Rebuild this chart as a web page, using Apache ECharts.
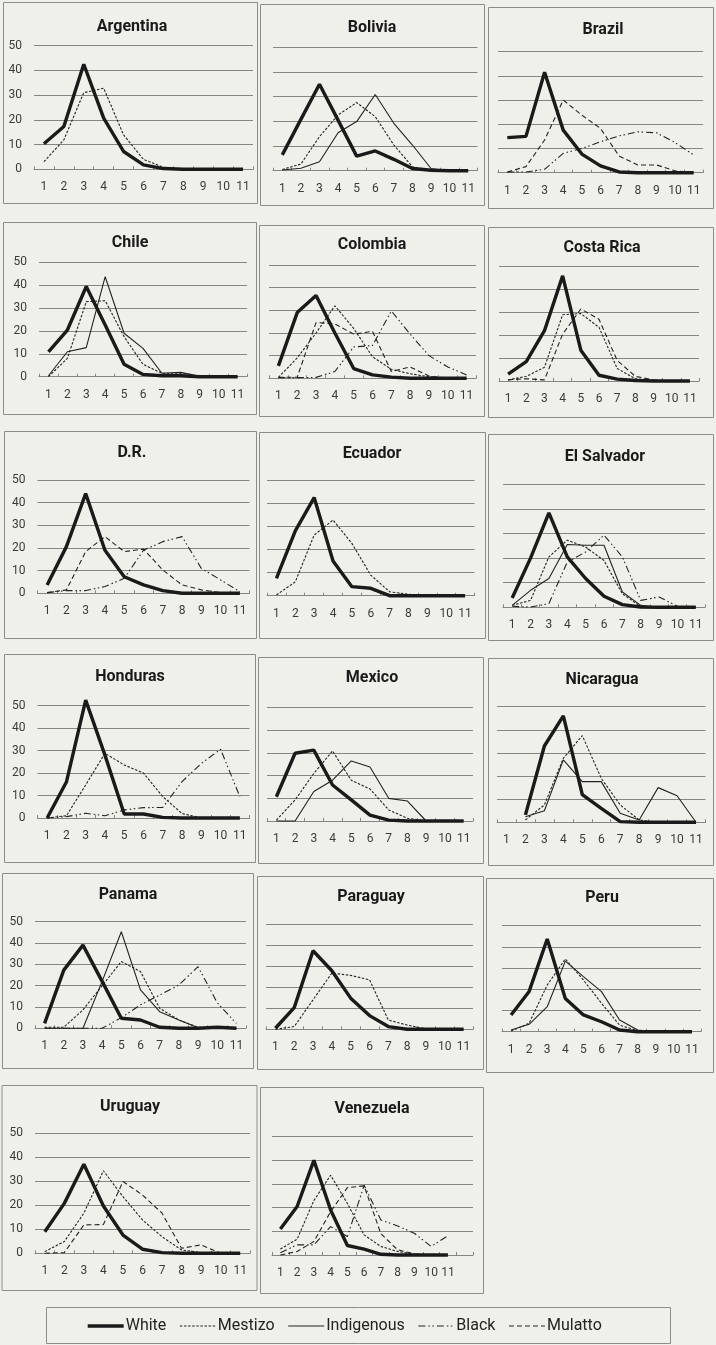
<!DOCTYPE html>
<html>
<head>
<meta charset="utf-8">
<script src="https://cdn.jsdelivr.net/npm/echarts@6/dist/echarts.min.js"></script>
<style>
html,body{margin:0;padding:0;background:#f0f0ea;}
#c{width:716px;height:1345px;}
</style>
</head>
<body>
<div id="c"></div>
<script>
// ---------- data ----------
const CATEGORIES = ['1','2','3','4','5','6','7','8','9','10','11'];
const Y_MIN = 0, Y_MAX = 50, Y_STEP = 10;
const GROUPS = ['White','Mestizo','Indigenous','Black','Mulatto'];

const argentina = {
  White:   [10.3, 17.3, 42.5, 20.7, 7.2, 1.8, 0.3, 0, 0, 0, 0],
  Mestizo: [3.1, 11.9, 31, 32.8, 13.9, 4, 0.8, 0, 0, 0, 0]
};
const bolivia = {
  White:      [6.4, 20.8, 35, 20.5, 5.9, 8, 4.6, 0.9, 0.2, 0, 0],
  Mestizo:    [0.5, 2.7, 13.8, 22.6, 27.6, 21.9, 10.4, 1.6, 0, 0, 0],
  Indigenous: [0.3, 1, 3.6, 15.4, 19.9, 30.9, 19.2, 10.4, 0.9, 0, 0]
};
const brazil = {
  White:   [14.5, 15, 41.5, 17.6, 7.7, 2.8, 0.3, 0, 0, 0, 0],
  Black:   [0.3, 0.3, 1.4, 8, 10, 12.8, 15.2, 16.9, 16.5, 12.5, 7.3],
  Mulatto: [0.3, 2.5, 13.5, 30, 23.8, 18.3, 6.9, 3.2, 3.2, 0.8, 0]
};
const chile = {
  White:      [10.9, 20.4, 39.4, 22.6, 5.4, 1, 0.4, 0.4, 0, 0, 0],
  Mestizo:    [0, 8, 32.8, 33.2, 17.5, 5.4, 1.5, 1.5, 0, 0, 0],
  Indigenous: [0.4, 10.9, 12.7, 43.7, 19, 12.4, 1.5, 1.9, 0.2, 0.4, 0]
};
const colombia = {
  White:   [5.5, 29, 36.5, 20, 4.3, 1.5, 0.5, 0, 0, 0, 0],
  Mestizo: [0.4, 9, 20, 32, 22, 9.5, 4, 2, 0.7, 0, 0],
  Black:   [0.3, 0.3, 0.4, 3, 13.8, 14.5, 29.7, 19.5, 10, 5, 1.5],
  Mulatto: [0.4, 0.5, 24.6, 24, 19.5, 20.7, 3, 5, 1, 0, 0]
};
const costaRica = {
  White:   [3, 8.5, 22, 46, 13.5, 2.5, 0.8, 0.2, 0, 0, 0],
  Mestizo: [0.5, 2, 6, 29, 29.5, 23.5, 5.5, 1, 0.3, 0, 0],
  Mulatto: [0.5, 1, 0.5, 20.5, 31.5, 27, 9, 2, 0.5, 0, 0]
};
const dominicanRep = {
  White:   [3.7, 20.6, 44, 19, 7.3, 3.7, 1.2, 0, 0, 0, 0],
  Black:   [0.3, 1.2, 1.2, 3, 6.6, 19, 22.8, 25, 11, 5.9, 0.7],
  Mulatto: [0.3, 1.5, 18.4, 25, 18.4, 19.5, 10.3, 3.7, 1.5, 0.3, 0]
};
const ecuador = {
  White:   [7.5, 28, 42.4, 15, 3.9, 3.2, 0, 0, 0, 0, 0],
  Mestizo: [0.3, 6, 26.2, 32.7, 22.6, 8.9, 1.7, 0.6, 0, 0, 0]
};
const elSalvador = {
  White:      [3.8, 20, 38.4, 20.5, 11.7, 4.5, 1.1, 0.1, 0, 0, 0],
  Mestizo:    [0.8, 2.8, 20.5, 27.3, 24.5, 19, 5.5, 0.3, 0, 0, 0],
  Indigenous: [0.8, 6.9, 11.7, 25.5, 25.2, 25.2, 6.2, 0.8, 0, 0, 0],
  Black:      [0.4, 0.1, 1.5, 18.4, 22.5, 29.3, 20.5, 2.8, 4.2, 0.4, 0]
};
const honduras = {
  White:   [0, 16, 52.5, 28, 1.8, 1.8, 0.3, 0, 0, 0, 0],
  Mestizo: [0, 1, 14.7, 28.8, 23.6, 20, 9.5, 2, 0, 0, 0],
  Black:   [0, 0.6, 2.1, 1, 3.6, 4.6, 4.7, 16.2, 24.3, 30.6, 9.5]
};
const mexico = {
  White:      [10.7, 29.9, 31.3, 15.9, 9.3, 2.6, 0.4, 0, 0, 0, 0],
  Mestizo:    [0.4, 9.3, 21, 30.9, 18, 14.1, 4.9, 1.2, 0, 0, 0],
  Indigenous: [0, 0, 13, 18, 26.5, 23.8, 10, 8.8, 0, 0, 0]
};
const nicaragua = {
  White:      [null, 3.2, 33, 46, 12, 6, 0.3, 0, 0, 0, 0],
  Mestizo:    [null, 1, 7.5, 27.7, 37.5, 19, 7.5, 1, 0, 0, 0],
  Indigenous: [null, 2.4, 5, 27, 17.6, 17.6, 3.9, 1, 15, 11.5, 0]
};
const panama = {
  White:      [2.3, 27.3, 39, 22, 4.7, 3.9, 0.5, 0, 0, 0.5, 0],
  Mestizo:    [0.5, 0.5, 8.6, 20, 31.3, 26.6, 9.4, 3.9, 0.5, 0, 0],
  Indigenous: [0, 0, 0, 22, 45.3, 18, 7.8, 3.9, 0.3, 0, 0],
  Black:      [0, 0, 0, 0, 5, 11, 15.6, 20.3, 28.9, 12, 2.3]
};
const paraguay = {
  White:   [0.5, 10.3, 37.3, 27.8, 14.8, 6.5, 1.3, 0, 0, 0, 0],
  Mestizo: [0, 1.3, 14, 26.7, 25.6, 23.5, 4.4, 2, 0.2, 0, 0]
};
const peru = {
  White:      [7.9, 19, 43.7, 15.7, 7.9, 4.7, 0.8, 0, 0, 0, 0],
  Mestizo:    [0.3, 4, 22, 34.3, 24.4, 13.4, 3.1, 0.5, 0, 0, 0],
  Indigenous: [0.8, 3.5, 11.8, 33.3, 26, 18.9, 5.5, 0.8, 0, 0, 0]
};
const uruguay = {
  White:   [9, 20.8, 37.1, 19.7, 7.6, 1.7, 0.3, 0, 0, 0, 0],
  Mestizo: [0.7, 4.9, 16.7, 34.4, 23.6, 13.9, 6.9, 1.4, 0.3, 0, 0],
  Mulatto: [0, 0.3, 11.8, 12, 29.9, 24.3, 16.7, 2.1, 3.5, 0, 0]
};
const venezuela = {
  White:   [11, 20.5, 40, 19, 4, 2.5, 0.3, 0, 0, 0, 0],
  Mestizo: [2.5, 6.7, 23, 33.7, 21.8, 8.5, 3.6, 1.5, 0.3, 0, 0],
  Black:   [1, 4.3, 4.3, 12, 7.8, 29.5, 14.8, 12.3, 9.2, 3.6, 8.1],
  Mulatto: [0, 1.5, 5.7, 18.3, 28.5, 29.2, 9, 2.2, 0.5, 0, 0]
};

// ---------- layout (pixels) ----------
// name, data, plot [left,right,y50,y0], frame [x,y,w,h], title [cx,cy], showYLabels, extraCats
const PANELS = [
  ['Argentina',  argentina,   [34,253,45.7,169.3],   [3,2,254,201],     [132,27], true, 0],
  ['Bolivia',    bolivia,     [273,477.5,47.3,170.7],[260,4,224,201],   [372,28], false,0],
  ['Brazil',     brazil,      [498,703,51.7,172.7],  [488,7,225,201],   [603,30], false,0],
  ['Chile',      chile,       [39,247,262.3,376.7],  [3,222,253,192],   [130,243],true, 0],
  ['Colombia',   colombia,    [269,476,265,378.3],   [259,225,225,191], [372,245],false,0],
  ['Costa Rica', costaRica,   [499,699,266.7,381],   [488,227,225,190], [602,248],false,0],
  ['D.R.',       dominicanRep,[37.5,249.5,480,593.3],[4,431,252,207],   [132,453],true, 0],
  ['Ecuador',    ecuador,     [267,474.5,480,595.7], [259,432,226,206], [372,454],false,0],
  ['El Salvador',elSalvador,  [503,705,484.3,607.3], [488,434,225,206], [605,457],false,0],
  ['Honduras',   honduras,    [37.5,249.5,705.7,818],[4,654,251,208],   [130,677],true, 0],
  ['Mexico',     mexico,      [267,473,707.7,821],   [258,657,225,206], [372,678],false,0],
  ['Nicaragua',  nicaragua,   [497,705.5,706.7,822.3],[488,658,225,207],[602,680],false,0],
  ['Panama',     panama,      [35,246,921.7,1028.3], [2,873,251,195],   [128,895],true, 0],
  ['Paraguay',   paraguay,    [266,473,924,1029.3],  [257,876,226,193], [371,897],false,0],
  ['Peru',       peru,        [502,701,925.7,1031.7],[486,878,227,194], [602,898],false,0],
  ['Uruguay',    uruguay,     [35,250,1133.3,1253.3],[1.5,1085,255,205],[130,1107],true,0],
  ['Venezuela',  venezuela,   [272,473,1136.7,1255], [260,1087,223,206],[372,1109],false,1]
];

const FONT = "'Liberation Sans Narrow','Roboto','Noto Sans',sans-serif";
const INK = '#222';
const STYLES = {
  White:      {color: '#1a1a1a', width: 3.4, type: 'solid', z: 5},
  Mestizo:    {color: INK, width: 1.1, type: [2.5, 1.6], z: 3},
  Indigenous: {color: INK, width: 1.1, type: 'solid', z: 4},
  Black:      {color: INK, width: 1.1, type: [7, 3, 1.5, 2.5, 1.5, 3], z: 2},
  Mulatto:    {color: INK, width: 1.1, type: [5, 3], z: 2}
};

const grids = [], xAxes = [], yAxes = [], series = [], titles = [], graphics = [];

PANELS.forEach((p, i) => {
  const [name, data, plot, frame, tpos, showY, extra] = p;
  const cats = CATEGORIES.concat(Array(extra).fill(''));
  grids.push({left: plot[0], top: plot[2], width: plot[1] - plot[0], height: plot[3] - plot[2], containLabel: false});
  xAxes.push({
    gridIndex: i, type: 'category', data: cats, boundaryGap: true,
    axisLine: {show: true, lineStyle: {color: '#858585', width: 1}},
    axisTick: {show: true, inside: true, length: 3, lineStyle: {color: '#858585'}},
    axisLabel: {interval: 0, fontSize: 12, color: '#3a3a3a', margin: 12, fontFamily: FONT},
    splitLine: {show: false}
  });
  yAxes.push({
    gridIndex: i, type: 'value', min: Y_MIN, max: Y_MAX, interval: Y_STEP,
    axisLine: {show: false}, axisTick: {show: false},
    axisLabel: {show: showY, fontSize: 12, color: '#3a3a3a', margin: 12, fontFamily: FONT},
    splitLine: {show: true, lineStyle: {color: '#858585', width: 1}}
  });
  GROUPS.forEach(g => {
    if (!data[g]) return;
    const s = STYLES[g];
    series.push({
      name: g, type: 'line', xAxisIndex: i, yAxisIndex: i, data: data[g],
      symbol: 'none', clip: false, z: s.z, animation: false,
      lineStyle: {color: s.color, width: s.width, type: s.type},
      itemStyle: {color: s.color}
    });
  });
  titles.push({
    text: name, left: tpos[0], top: tpos[1] - 9, textAlign: 'center', padding: 0,
    textStyle: {fontSize: 16, fontWeight: 'bold', color: '#1a1a1a', fontFamily: FONT, lineHeight: 18}
  });
  graphics.push({
    type: 'rect', silent: true, z: 0,
    shape: {x: frame[0] + 0.5, y: frame[1] + 0.5, width: frame[2], height: frame[3]},
    style: {fill: 'none', stroke: '#8c8c8c', lineWidth: 1}
  });
});

graphics.push({
  type: 'rect', silent: true, z: 0,
  shape: {x: 46.5, y: 1307.5, width: 624, height: 36},
  style: {fill: 'none', stroke: '#8c8c8c', lineWidth: 1}
});

const chart = echarts.init(document.getElementById('c'), null, {renderer: 'canvas'});
chart.setOption({
  backgroundColor: '#f0f0ea',
  animation: false,
  title: titles,
  grid: grids,
  xAxis: xAxes,
  yAxis: yAxes,
  series: series,
  graphic: graphics,
  legend: {
    data: GROUPS, left: 86, top: 1318, orient: 'horizontal',
    itemWidth: 36, itemHeight: 12, itemGap: 13, padding: 0,
    itemStyle: {opacity: 0, borderWidth: 0},
    lineStyle: {width: 'inherit'},
    textStyle: {fontSize: 16, color: '#222', fontFamily: FONT, padding: [0, 0, 0, -3]},
    selectedMode: false
  }
});
</script>
</body>
</html>
